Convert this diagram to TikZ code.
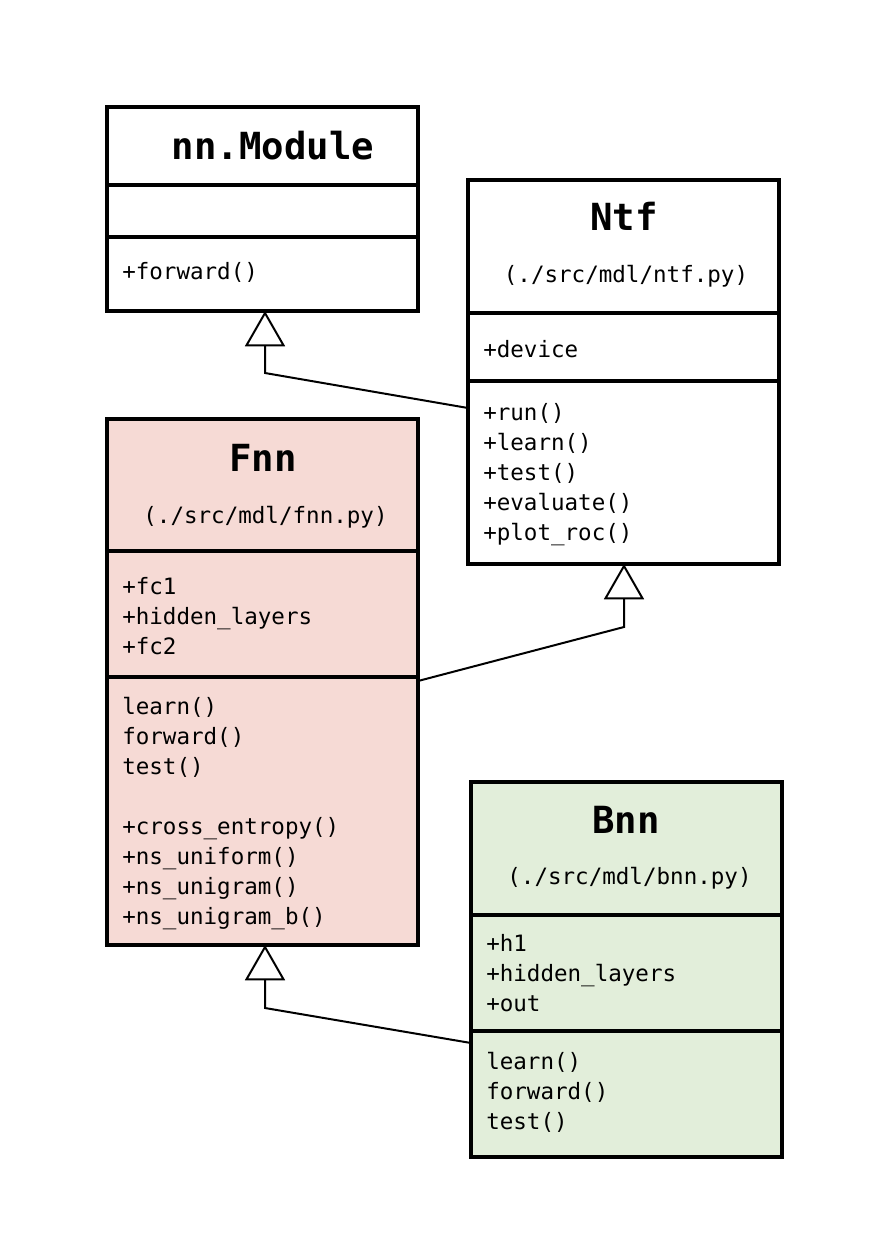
\documentclass[tikz,border=0pt]{standalone}
\usepackage{fontspec}
\setmonofont{DejaVu Sans Mono}
\usetikzlibrary{arrows.meta}
\definecolor{fnnfill}{HTML}{F6DAD5}
\definecolor{bnnfill}{HTML}{E2EEDA}
\newcommand{\itemfont}{\ttfamily\fontsize{16.9}{22.5}\selectfont}
\newcommand{\titlefont}{\ttfamily\bfseries\fontsize{28}{32}\selectfont}
\begin{document}
\begin{tikzpicture}[x=0.75pt,y=-0.75pt,
  classbox/.style={draw=black, line width=3pt, rectangle, anchor=north west, inner sep=0pt, outer sep=0pt},
  divider/.style={line width=3pt},
  item/.style={anchor=west, inner sep=0pt, font=\itemfont, text height=0.75em, text depth=0.22em, yshift=-3.75pt},
  path/.style={anchor=center, inner sep=0pt, font=\itemfont, text height=0.75em, text depth=0.22em, yshift=-3pt},
  title/.style={anchor=center, inner sep=0pt, font=\titlefont, text height=0.73em, text depth=0pt, yshift=-6pt},
  inherit/.style={line width=1.5pt, -{Triangle[open, width=30pt, length=26.5pt, line width=1.5pt]}}
]
\path[use as bounding box, fill=white] (0,0) rectangle (892,1247);

% nn.Module
\node[classbox, minimum width=311*0.75pt, minimum height=204*0.75pt] (mod) at (107,107) {};
\draw[divider] (107,185) -- (418,185);
\draw[divider] (107,237) -- (418,237);
\node[title] (modt) at (273,147) {nn.Module};
\node[item] (modm1) at (122,271) {+forward()};

% Ntf
\node[classbox, minimum width=311*0.75pt, minimum height=384*0.75pt] (ntf) at (468,180) {};
\draw[divider] (468,313) -- (779,313);
\draw[divider] (468,381) -- (779,381);
\node[title] (ntft) at (624,218) {Ntf};
\node[path] (ntfp) at (626,275) {(./src/mdl/ntf.py)};
\node[item] (ntfa1) at (483,349) {+device};
\node[item] (ntfm1) at (483,412) {+run()};
\node[item] (ntfm2) at (483,442) {+learn()};
\node[item] (ntfm3) at (483,472) {+test()};
\node[item] (ntfm4) at (483,502) {+evaluate()};
\node[item] (ntfm5) at (483,532) {+plot\_roc()};

% Fnn
\node[classbox, fill=fnnfill, minimum width=311*0.75pt, minimum height=526*0.75pt] (fnn) at (107,419) {};
\draw[divider] (107,551) -- (418,551);
\draw[divider] (107,677) -- (418,677);
\node[title] (fnnt) at (263,459) {Fnn};
\node[path] (fnnp) at (265.5,516) {(./src/mdl/fnn.py)};
\node[item] (fnna1) at (122,586) {+fc1};
\node[item] (fnna2) at (122,616) {+hidden\_layers};
\node[item] (fnna3) at (122,646) {+fc2};
\node[item] (fnnm1) at (122,706) {learn()};
\node[item] (fnnm2) at (122,736) {forward()};
\node[item] (fnnm3) at (122,766) {test()};
\node[item] (fnnm4) at (122,826) {+cross\_entropy()};
\node[item] (fnnm5) at (122,856) {+ns\_uniform()};
\node[item] (fnnm6) at (122,886) {+ns\_unigram()};
\node[item] (fnnm7) at (122,916) {+ns\_unigram\_b()};

% Bnn
\node[classbox, fill=bnnfill, minimum width=311*0.75pt, minimum height=375*0.75pt] (bnn) at (471,782) {};
\draw[divider] (471,915) -- (782,915);
\draw[divider] (471,1031) -- (782,1031);
\node[title] (bnnt) at (626,821) {Bnn};
\node[path] (bnnp) at (629.5,877) {(./src/mdl/bnn.py)};
\node[item] (bnna1) at (486,943) {+h1};
\node[item] (bnna2) at (486,973) {+hidden\_layers};
\node[item] (bnna3) at (486,1003) {+out};
\node[item] (bnnm1) at (486,1061) {learn()};
\node[item] (bnnm2) at (486,1091) {forward()};
\node[item] (bnnm3) at (486,1121) {test()};

% connector points
\coordinate (c1) at (265,373);
\coordinate (c2) at (624,627);
\coordinate (c3) at (265,1008);

\draw[inherit] (ntf.west |- 0,408) -- (c1) -- (c1 |- mod.south);
\draw[inherit] (fnn.east |- 0,681) -- (c2) -- (c2 |- ntf.south);
\draw[inherit] (bnn.west |- 0,1043) -- (c3) -- (c3 |- fnn.south);
\end{tikzpicture}
\end{document}
